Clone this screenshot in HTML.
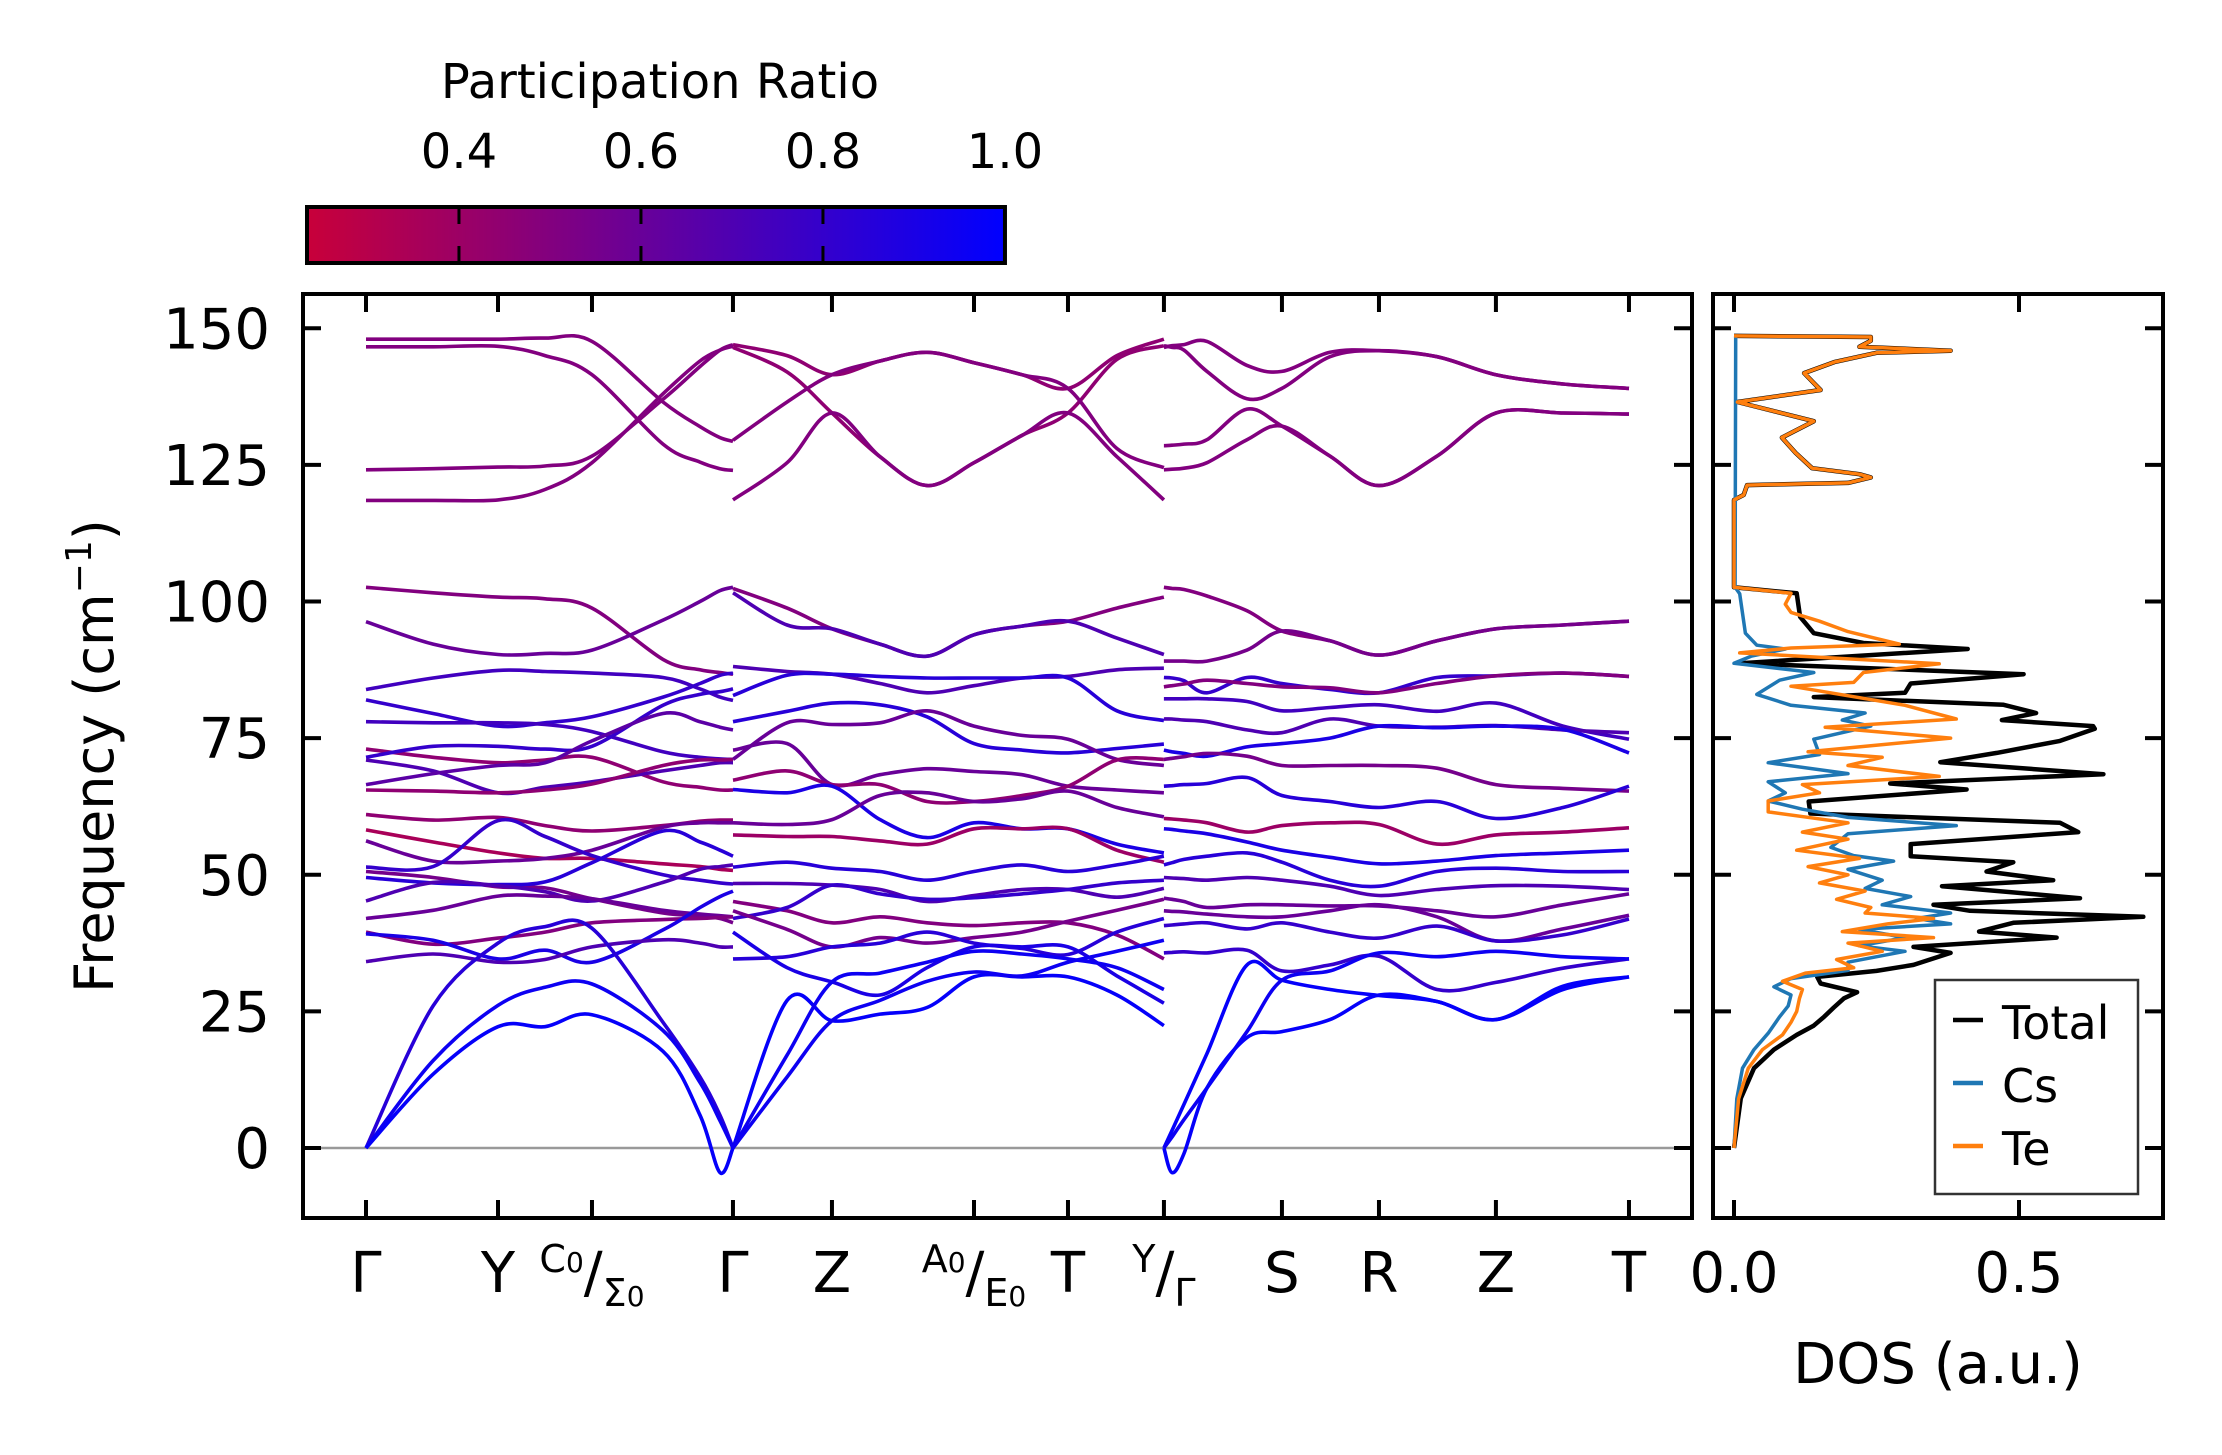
<!DOCTYPE html>
<html><head><meta charset="utf-8"><style>
html,body{margin:0;padding:0;background:#fff}
svg{display:block;font-family:"DejaVu Sans","Liberation Sans",sans-serif}
</style></head><body>
<svg id="chart" xmlns="http://www.w3.org/2000/svg" width="2222" height="1455" viewBox="0 0 2222 1455">
<defs><linearGradient id="cbgrad" x1="0" x2="1" y1="0" y2="0"></linearGradient></defs>
<g id="colorbar"></g>
<g id="bands"></g>
<g id="dos"></g>
</svg>
<script>
// ---- data: band structure ----
const symLabels = ["Γ","Y","C0/Σ0","Γ","Z","A0/E0","T","Y/Γ","S","R","Z","T"];
const symK = [0,1,1.712,2.78,3.53,4.606,5.318,6.045,6.939,7.674,8.56,9.568];
const yTicks = [0,25,50,75,100,125,150];
const kGrid1 = [0,0.508,1,1.356,1.712,2.25,2.53,2.682,2.78];
const kGrid2 = [2.78,3.19,3.53,3.894,4.25,4.606,4.97,5.318,5.689,6.045];
const kGrid3 = [6.045,6.106,6.197,6.371,6.674,6.939,7.303,7.674,8.114,8.56,9.068,9.568];
const bands1 = [
[148,148,148,148.2,147.6,136.5,132,130,129.3],
[146.6,146.6,146.7,145,141.5,128.8,125.5,124.3,124],
[124.1,124.3,124.6,124.8,126.6,137,143,146,147],
[118.5,118.5,118.6,120.5,125.4,138,144,146,146.7],
[102.6,101.6,100.8,100.5,98.8,89.4,87.5,87,86.7],
[96.3,92.2,90.3,90.5,91.1,96.6,100,102,102.6],
[83.9,86,87.4,87.2,86.9,86.1,84,82.5,81.9],
[82,79.5,77.2,77.8,78.9,82.5,85,86.5,86.9],
[78,77.8,77.8,77.5,76.2,72.5,71.5,71.2,71.1],
[73,71.5,70.5,71,71.5,67,66,65.5,65.5],
[71.5,73.5,73.5,73,73.5,81,83,83.5,84],
[71,69,65,66,67,69,70,70.5,70.5],
[66.5,68.5,70,70.5,74.5,79.5,78,77,76.5],
[65.5,65.3,65,65.5,66.6,70,71,71,71.1],
[61,60,60.5,59,58,59,59.8,60,60],
[58.2,56,54,53,53,52,51.5,51,50.8],
[56.2,52.5,52.5,53,54.5,58.7,59.5,59.5,59.5],
[51.4,51.5,59.9,57,53.5,50,49,48.5,48.3],
[50.6,49.5,47.8,47.6,45.6,43,42.5,42,41.2],
[49.5,48.5,48.2,48.7,52.2,58,56,54.5,53.4],
[45.2,48.6,48,46.9,45.2,48.6,51,51.5,51.8],
[42,43.5,46.1,46.1,45.6,43.5,42.8,42.5,42.3],
[39.5,37.3,38.4,39.5,41.2,41.8,42,42.2,42.3],
[39.2,38,34.6,36.2,34,39.9,44,46,47],
[34.1,35.5,34,34.5,36.8,38.1,37.5,36.8,36.8],
[0,26,37.5,40.5,40.2,23,13,6,0],
[0,16,26.1,29.4,30,21.5,12,5,0],
[0,13.5,22.2,22.2,24.4,17.7,6,-4.5,0]
];
const pr1 = [0.5,0.5,0.5,0.5,0.5,0.6,0.75,0.8,0.75,0.45,0.8,0.7,0.65,0.45,0.45,0.35,0.6,0.8,0.55,0.85,0.7,0.6,0.5,0.9,0.7,0.85,0.95,0.98];
const bands2 = [
[147,145,141.5,144,145.6,143.7,141.5,139,145,148],
[146.5,142,134.5,126.5,121.2,125.4,130.4,134.5,144.3,146.8],
[129.5,136.5,141.5,144,145.6,143.7,141.5,139,128,124.5],
[118.6,125.4,134.5,126.5,121.2,125.4,130.4,134.5,126.5,118.6],
[102.4,98.8,95,92.2,90,93.9,95.5,96.4,98.8,100.8],
[101.6,95.7,95,92.2,90,93.9,95.5,96.4,93.3,90.3],
[88.1,87.2,86.7,85,83.3,84.6,86,86.3,87.5,87.8],
[82.8,86.5,86.7,86.3,86,86,86,86,80,78.2],
[78,79.9,81.4,81.1,78.9,74,72.8,72.3,73.1,73.9],
[71.1,77.8,77.5,77.8,80,77.2,75.5,74.8,71.1,70],
[72.8,74,66.5,68.3,69.4,68.9,68.3,66.2,65.5,65],
[67.3,69,66.5,66.5,63.4,63.4,64.5,66.2,71,71.1],
[65.6,65,66.2,60.1,56.8,59.5,58.4,58.4,55.6,54],
[59.5,59.2,60.1,64.5,65,63.4,63.9,65.3,62.3,60.6],
[57.3,57,57,56.2,55.6,58.4,58.4,58.4,54.5,52.3],
[51.4,52.3,51.2,50.6,49,50.6,51.8,50.6,51.8,53.4],
[48.4,48.4,48.1,47.3,45.1,46.2,47.3,47.3,45.9,47.5],
[45.1,43.4,41.2,42.3,41.2,40.7,41.2,41.2,39,34.6],
[42,44,48.1,46.5,45.5,45.8,46.5,47.3,48.5,49],
[43.4,40,36.8,38.5,37.5,38.5,39.5,41.5,43.5,45.5],
[34.6,35,36.8,37.5,39.5,37.5,36.5,35.4,39.5,42],
[39.5,33,30.4,28,33,36.8,36.8,36.8,31.5,26.5],
[0,27,23.3,24.5,25.7,31.3,31.3,31.3,28,22.4],
[0,17,30.4,32,34,36,35.5,34.6,33,29],
[0,13,23.3,27,30.5,32.2,31.5,34,36,38]
];
const pr2 = [0.45,0.45,0.5,0.5,0.5,0.7,0.7,0.85,0.85,0.6,0.6,0.45,0.9,0.6,0.4,0.85,0.7,0.5,0.8,0.55,0.85,0.9,0.98,0.95,0.95];
const bands3 = [
[146.5,146.8,147,147.6,143.2,142.1,145.6,145.9,144.8,141.5,139.8,139],
[146.8,146.5,146,142.1,137.1,139,144.8,145.9,144.8,141.5,139.8,139],
[128.5,128.6,128.8,129.6,135.2,132.1,126.6,121.2,126.6,134.5,134.5,134.3],
[124.1,124.2,124.4,125.4,129.6,132.1,126.6,121.2,126.6,134.5,134.5,134.3],
[102.6,102.4,102.2,101,98.3,94.6,92.8,90.2,92.8,95,95.7,96.4],
[89.1,89.1,89.1,89.1,91.1,94.6,92.8,90.2,92.8,95,95.7,96.4],
[86.1,86,85.5,83.3,86.1,85,83.9,83.3,86.1,86.4,86.9,86.3],
[84.4,84.6,84.9,85.6,85,84.4,84.2,83.3,85,86.4,86.9,86.3],
[82.2,82.2,82.2,82.2,81.7,80,80.6,81.1,79.9,81.4,77.2,74.8],
[78.5,78.5,78.3,78,76.5,76,78.5,77.2,77,77.3,76.5,76],
[72.8,72.5,72.2,71.7,73.4,74,75,77.2,76.9,77.2,76.6,72.3],
[71.1,71.3,71.6,72.2,71.7,70,70,70,69.5,66.5,65.8,65.3],
[66.2,66.3,66.5,66.7,67.8,64.5,63.4,62.3,63.4,60.3,62.3,66.2],
[60.3,60.2,60,59.5,57.8,59,59.5,59.2,55.6,57.3,57.8,58.6],
[58.4,58.3,58,57.5,56,54.5,53.2,52,52.5,53.5,54,54.5],
[51.8,52.2,52.8,53.4,54,52.3,49,47.9,50.6,51.2,50.6,50.6],
[49.5,49.4,49.3,49,49.5,49,47.9,46.2,47.3,48,47.9,47.3],
[45.7,45.5,45.1,44,44.5,44.5,44.3,44.3,43.4,42.3,44.5,46.5],
[43.4,43.3,43.2,42.8,42.3,42.3,43.4,44.5,42.3,37.9,40.1,42.6],
[40.7,40.8,41,41.2,40.1,41.2,39.5,38.4,40.6,37.9,39,41.9],
[35.7,35.8,35.9,35.7,36.2,32.4,33.5,35.1,29,30.3,32.9,34.6],
[0,3.2,8,17.3,33.5,30.7,29,27.9,26.8,23.5,29,31.3],
[0,2,5.2,11,21.3,30.7,32.4,35.7,35,36,35,34.6],
[0,-4.5,-1,11,20.2,21.3,23.5,28,26.8,23.5,29.6,31.3]
];
const pr3 = [0.5,0.5,0.5,0.5,0.5,0.55,0.8,0.5,0.75,0.7,0.9,0.55,0.85,0.4,0.9,0.85,0.7,0.6,0.6,0.8,0.8,0.98,0.95,0.98];
const cbTicks = [0.4,0.6,0.8,1.0];
// ---- data: DOS ----
const totalF = [0,9.1,14.6,18,20.7,22.4,24,25.7,27.4,28.5,30.1,31.3,32.4,33.5,35.7,36.8,38.5,39.6,41.2,42.3,43.4,44.5,45.7,47.9,49,50.6,52.3,53.4,55.6,57.8,59.5,61.2,63.4,65.6,66.7,68.4,70.6,72.3,74.5,76.7,77.2,78.3,79.6,81.1,82.5,83.3,85,86.7,88.7,91.3,92.4,94.2,97.2,101.5,102.6,118.6,119.5,121.3,121.7,122.7,123.3,124.4,127.2,130,133,136.5,138.7,141.8,143.8,145.5,145.9,146.6,147.7,148.4,148.6];
const totalV = [0,0.012,0.035,0.07,0.11,0.14,0.158,0.175,0.193,0.216,0.152,0.146,0.25,0.315,0.38,0.315,0.566,0.43,0.49,0.718,0.414,0.35,0.607,0.365,0.56,0.443,0.49,0.31,0.31,0.604,0.572,0.134,0.131,0.408,0.274,0.648,0.362,0.461,0.572,0.633,0.63,0.47,0.53,0.473,0.14,0.3,0.31,0.508,0.011,0.41,0.227,0.14,0.116,0.11,0,0,0.017,0.023,0.2,0.24,0.22,0.137,0.108,0.084,0.14,0.006,0.152,0.123,0.176,0.25,0.38,0.22,0.24,0.24,0];
const teF = [0,9,14.6,18,20.7,23,25,27.4,29,30.5,32,33,34.5,36,37.5,38.5,39.6,41,42,43,44,45.5,47,48.5,50,51.5,53,54.5,56.5,57.8,59.5,61.5,63.5,65,66.5,68,70,71.5,72.5,75,77,78.5,81,84.5,85.2,87,88.6,90.6,91.5,92.2,94.5,96.4,98,99.5,101.5,102.6,118.6,119.5,121.3,121.7,122.7,123.3,124.4,127.2,130,133,136.5,138.7,141.8,143.8,145.5,145.9,146.6,147.7,148.4,148.6];
const teV = [0,0.008,0.025,0.05,0.085,0.1,0.11,0.115,0.12,0.085,0.125,0.21,0.18,0.26,0.2,0.35,0.19,0.27,0.35,0.23,0.24,0.18,0.23,0.15,0.2,0.13,0.22,0.11,0.2,0.12,0.2,0.06,0.06,0.15,0.12,0.36,0.2,0.26,0.13,0.38,0.16,0.39,0.3,0.1,0.21,0.227,0.36,0.01,0.1,0.29,0.2,0.15,0.1,0.09,0.1,0,0,0.017,0.023,0.2,0.24,0.22,0.137,0.108,0.084,0.14,0.006,0.152,0.123,0.176,0.25,0.38,0.22,0.24,0.24,0];
const csF = [0,9,14.6,18,21,24,26,28,29.5,31,32.5,34,36,37,38.5,40,41,42,43,44.5,46,47.5,49,51,52.5,53.5,55,57.5,59,60.5,62,63.5,65,67,68.5,70.5,72,74.8,77.2,78.3,79.6,81,83,85.6,87,88.7,90,91.3,92,94.2,101.4,102.6,148.6];
const csV = [0,0.005,0.015,0.035,0.06,0.08,0.095,0.1,0.07,0.1,0.2,0.2,0.3,0.22,0.3,0.22,0.38,0.32,0.38,0.26,0.31,0.23,0.26,0.2,0.28,0.21,0.17,0.2,0.39,0.2,0.12,0.06,0.09,0.06,0.2,0.06,0.15,0.14,0.24,0.19,0.23,0.1,0.04,0.08,0.14,0,0.03,0.09,0.04,0.02,0.01,0.002,0.003];
const dosTicks = [0,0.5];

// ---- layout / scales ----
const NS="http://www.w3.org/2000/svg";
const M={l:303,r:1692,t:294,b:1218};
const D={l:1713,r:2163};
const fy = f => 1148 - f*5.465;
const kx = k => 366 + k*132;
const dx = v => 1734 + v*570;
const cbx = p => 307 + (p-0.233)*910;
function cmap(p){const t=Math.max(0,Math.min(1,(p-0.233)/0.767));return `rgb(${Math.round(200*(1-t))},0,${Math.round(58+197*t)})`;}
function mk(tag,attrs,parent){const e=document.createElementNS(NS,tag);for(const a in attrs)e.setAttribute(a,attrs[a]);parent.appendChild(e);return e;}
function smooth(P){let d=`M${P[0][0].toFixed(1)},${P[0][1].toFixed(1)}`;for(let i=0;i<P.length-1;i++){const p0=P[i-1]||P[i],p1=P[i],p2=P[i+1],p3=P[i+2]||P[i+1];const c1=[p1[0]+(p2[0]-p0[0])/6,p1[1]+(p2[1]-p0[1])/6];const c2=[p2[0]-(p3[0]-p1[0])/6,p2[1]-(p3[1]-p1[1])/6];d+=`C${c1[0].toFixed(1)},${c1[1].toFixed(1)} ${c2[0].toFixed(1)},${c2[1].toFixed(1)} ${p2[0].toFixed(1)},${p2[1].toFixed(1)}`;}return d;}

// ---- colorbar ----
const cb=document.getElementById('colorbar');
const grad=document.getElementById('cbgrad');
for(let i=0;i<=10;i++){const p=0.233+0.767*i/10;mk('stop',{offset:(i*10)+'%','stop-color':cmap(p)},grad);}
const cbRect=mk('rect',{x:307,y:207,width:cbx(1.0)-307,height:56,fill:'url(#cbgrad)',stroke:'#000','stroke-width':4},cb);


cbTicks.forEach(t=>{
  const x=cbx(t);
  if(t<1){const l=mk('line',{x1:x,x2:x,y1:207,y2:263,stroke:'#000','stroke-width':3,'stroke-dasharray':'17 22 17'},cb);
  
  }
  const tx=mk('text',{x:x,y:168,'font-size':48,'text-anchor':'middle'},cb);tx.textContent=t.toFixed(1);
  
  
});
const cbt=mk('text',{x:660,y:98,'font-size':48,'text-anchor':'middle'},cb);cbt.textContent='Participation Ratio';



// ---- band plot ----
const bg=document.getElementById('bands');
const zl=mk('line',{x1:M.l,x2:M.r,y1:fy(0),y2:fy(0),stroke:'#999','stroke-width':2.5},bg);


[[kGrid1,bands1,pr1],[kGrid2,bands2,pr2],[kGrid3,bands3,pr3]].forEach(([kg,bs,pr],pi)=>{
  bs.forEach((b,bi)=>{
    const pts=b.map((f,i)=>[kx(kg[i]),fy(f)]);
    const p=mk('path',{d:smooth(pts),fill:'none',stroke:cmap(pr[bi]),'stroke-width':3.6,'stroke-linejoin':'round'},bg);
    
    
  });
});
const fr=mk('rect',{x:M.l,y:M.t,width:M.r-M.l,height:M.b-M.t,fill:'none',stroke:'#000','stroke-width':4},bg);


yTicks.forEach(t=>{
  const y=fy(t);
  mk('line',{x1:M.l,x2:M.l+18,y1:y,y2:y,stroke:'#000','stroke-width':4},bg);
  mk('line',{x1:M.r-18,x2:M.r,y1:y,y2:y,stroke:'#000','stroke-width':4},bg);
  const tx=mk('text',{x:270,y:y+20,'font-size':56,'text-anchor':'end'},bg);tx.textContent=t;
  
  
});
symK.forEach((k,i)=>{
  const x=kx(k);
  mk('line',{x1:x,x2:x,y1:M.t,y2:M.t+18,stroke:'#000','stroke-width':4},bg);
  mk('line',{x1:x,x2:x,y1:M.b-18,y2:M.b,stroke:'#000','stroke-width':4},bg);
  const lab=symLabels[i];
  const tx=mk('text',{x:x,y:1292,'font-size':56,'text-anchor':'middle'},bg);
  
  
  if(lab.includes('/')){
    const [a,b]=lab.split('/');
    const parts=[[a[0],38,-20],[a.slice(1),28,0],['/',56,20],[b[0],38,14],[b.slice(1),28,0]];
    parts.forEach(([s,fs,dy])=>{if(!s)return;const ts=mk('tspan',{'font-size':fs,dy:dy},tx);ts.textContent=s;});
  } else tx.textContent=lab;
});
const yt=mk('text',{x:0,y:0,'font-size':54,'text-anchor':'middle',transform:'translate(113,756) rotate(-90)'},bg);


yt.appendChild(document.createTextNode('Frequency (cm'));
const sup=mk('tspan',{'font-size':36,dy:-22},yt);sup.textContent='−1';
const cl=mk('tspan',{dy:22},yt);cl.textContent=')';

// ---- DOS plot ----
const dg=document.getElementById('dos');
function dosLine(F,V,color,w,name){
  const d=F.map((f,i)=>(i?'L':'M')+dx(V[i]).toFixed(1)+','+fy(f).toFixed(1)).join('');
  const p=mk('path',{d:d,fill:'none',stroke:color,'stroke-width':w,'stroke-linejoin':'round'},dg);
  
  
}
dosLine(totalF,totalV,'#000',4.5,'dos-total-line');
dosLine(csF,csV,'#1f77b4',3.5,'dos-cs-line');
dosLine(teF,teV,'#ff7f0e',3.5,'dos-te-line');
const dfr=mk('rect',{x:D.l,y:M.t,width:D.r-D.l,height:M.b-M.t,fill:'none',stroke:'#000','stroke-width':4},dg);


yTicks.forEach(t=>{
  const y=fy(t);
  mk('line',{x1:D.l,x2:D.l+18,y1:y,y2:y,stroke:'#000','stroke-width':4},dg);
  mk('line',{x1:D.r-18,x2:D.r,y1:y,y2:y,stroke:'#000','stroke-width':4},dg);
});
dosTicks.forEach(t=>{
  const x=dx(t);
  mk('line',{x1:x,x2:x,y1:M.t,y2:M.t+18,stroke:'#000','stroke-width':4},dg);
  mk('line',{x1:x,x2:x,y1:M.b-18,y2:M.b,stroke:'#000','stroke-width':4},dg);
  const tx=mk('text',{x:x,y:1292,'font-size':56,'text-anchor':'middle'},dg);tx.textContent=t.toFixed(1);
  
  
});
const dt=mk('text',{x:1938,y:1383,'font-size':56,'text-anchor':'middle'},dg);dt.textContent='DOS (a.u.)';


// legend
const lg=mk('g',{},dg);


mk('rect',{x:1935,y:980,width:203,height:214,fill:'#fff',stroke:'#333','stroke-width':2.5},lg);
const legNames=['Total','Cs','Te'];
const legColors=['#000','#1f77b4','#ff7f0e'];
legNames.forEach((n,i)=>{
  const y=1020+i*63;
  const ln=mk('line',{x1:1953,x2:1983,y1:y,y2:y,stroke:legColors[i],'stroke-width':4.5},lg);
  
  
  const tx=mk('text',{x:2002,y:y+19,'font-size':46},lg);tx.textContent=n;
  
  
});
</script>
</body></html>
